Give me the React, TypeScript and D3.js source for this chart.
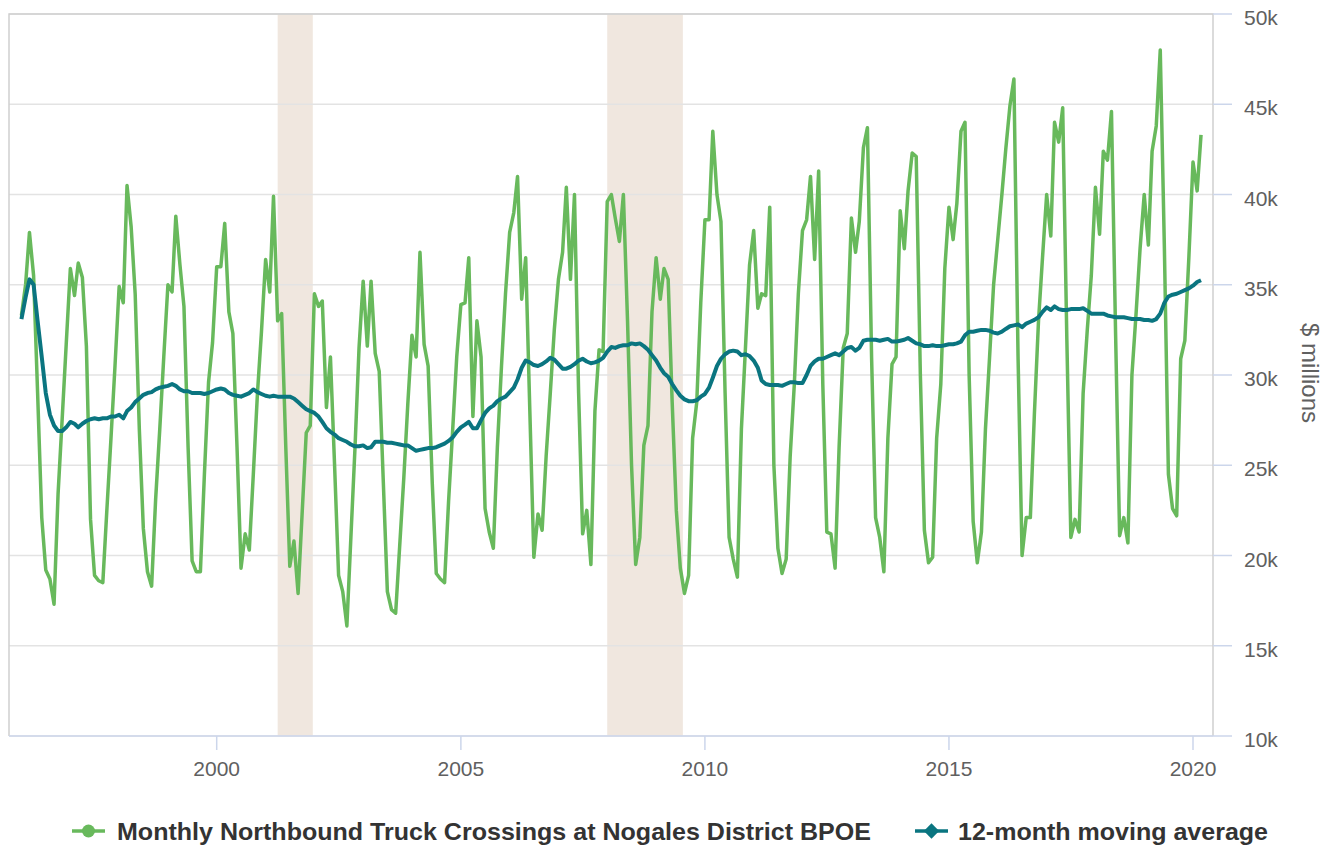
import * as d3 from "d3";

// monthly values, thousands of $ millions, starting Jan 1996
const START_YEAR = 1996;

const truckCrossings = [
  33.3, 35.0, 37.9, 35.5, 29.0, 22.1, 19.2, 18.7, 17.3, 23.4, 27.6, 31.7,
  35.9, 34.4, 36.2, 35.4, 31.6, 22.0, 18.9, 18.6, 18.5, 22.5, 26.5, 30.5,
  34.9, 34.0, 40.5, 38.2, 34.5, 27.0, 21.5, 19.1, 18.3, 23.1, 27.0, 31.0,
  35.0, 34.6, 38.8, 36.1, 33.8, 26.0, 19.7, 19.1, 19.1, 24.5, 29.6, 31.8,
  36.0, 36.0, 38.4, 33.5, 32.3, 26.0, 19.3, 21.2, 20.3, 24.5, 29.0, 32.4,
  36.4, 34.6, 39.9, 33.0, 33.4, 26.0, 19.4, 20.8, 17.9, 22.3, 26.8, 27.2,
  34.5, 33.8, 34.1, 28.2, 31.0, 25.0, 18.9, 18.0, 16.1, 21.0, 26.0, 31.5,
  35.2, 31.6, 35.2, 31.2, 30.2, 24.0, 18.0, 17.0, 16.8, 20.5, 24.3, 28.4,
  32.2, 31.0, 36.8, 31.7, 30.5, 24.0, 19.0, 18.7, 18.5, 23.0, 27.0, 31.0,
  33.9, 34.0, 36.5, 27.7, 33.0, 31.0, 22.6, 21.3, 20.4, 26.0, 30.5, 34.5,
  37.9, 39.0, 41.0, 34.2, 36.5, 28.0, 19.9, 22.3, 21.4, 25.5, 29.0, 32.5,
  35.3, 36.8, 40.4, 35.3, 40.0, 29.0, 21.2, 22.5, 19.5, 28.0, 31.4, 31.3,
  39.6, 40.0, 38.7, 37.4, 40.0, 33.0, 25.0, 19.5, 21.0, 26.1, 27.2, 33.5,
  36.5, 34.2, 35.9, 35.3, 28.5, 22.5, 19.3, 17.9, 18.9, 26.5, 28.5, 34.0,
  38.6, 38.6, 43.5, 40.0, 38.5, 29.0, 21.0, 19.8, 18.8, 27.0, 31.6, 36.1,
  38.0, 33.7, 34.5, 34.4, 39.3, 25.0, 20.4, 19.0, 19.8, 25.5, 29.5, 34.5,
  38.0, 38.6, 41.0, 36.4, 41.3, 29.5, 21.3, 21.2, 19.3, 26.0, 31.5, 32.3,
  38.7, 36.8, 38.5, 42.6, 43.7, 31.0, 22.1, 21.0, 19.1, 26.5, 30.6, 31.0,
  39.1, 37.0, 40.2, 42.3, 42.1, 30.0, 21.4, 19.6, 19.9, 26.5, 29.5, 35.9,
  39.3, 37.5, 39.5, 43.5, 44.0, 30.0, 21.9, 19.6, 21.3, 27.0, 31.0, 35.0,
  37.5, 40.0, 42.5, 44.9, 46.4, 31.0, 20.0, 22.1, 22.1, 27.8, 33.0, 36.5,
  40.0, 37.7, 44.0, 42.9, 44.8, 32.0, 21.0, 22.0, 21.3, 29.0, 32.5, 35.5,
  40.4, 37.8, 42.4, 41.9, 44.6, 32.2, 21.1, 22.1, 20.7, 30.0, 33.4, 37.0,
  40.0, 37.2, 42.4, 43.8, 48.0, 37.0, 24.5, 22.6, 22.2, 30.9, 31.9, 36.5,
  41.8, 40.2, 43.3,
];

const movingAverage = [
  33.1, 34.3, 35.3, 35.0, 33.0, 31.0, 29.0, 27.8, 27.2, 26.9, 26.9, 27.1,
  27.4, 27.3, 27.1, 27.3, 27.45, 27.55, 27.6, 27.55, 27.6, 27.6, 27.7, 27.7,
  27.8, 27.6, 28.0, 28.2, 28.5, 28.7, 28.9, 29.0, 29.05, 29.2, 29.3, 29.35,
  29.4, 29.5, 29.4, 29.2, 29.1, 29.1, 29.0, 29.0, 29.0, 28.95, 29.0, 29.1,
  29.2, 29.25, 29.2, 29.0, 28.9, 28.85, 28.8, 28.9, 29.0, 29.2, 29.05, 28.95,
  28.85, 28.8, 28.85, 28.8, 28.8, 28.8, 28.8, 28.7, 28.5, 28.3, 28.1, 28.0,
  27.9, 27.7, 27.4, 27.05, 26.85, 26.7, 26.5, 26.4, 26.3, 26.15, 26.05, 26.05,
  26.1, 25.95, 26.0, 26.3, 26.3, 26.3, 26.25, 26.25, 26.2, 26.15, 26.1, 26.1,
  25.95, 25.8, 25.85, 25.9, 25.95, 25.95, 26.0, 26.1, 26.2, 26.35, 26.55, 26.85,
  27.1, 27.25, 27.4, 27.05, 27.05, 27.5, 27.9, 28.15, 28.3, 28.55, 28.7, 28.8,
  29.05, 29.3, 29.75, 30.4, 30.8, 30.7, 30.55, 30.5, 30.6, 30.75, 30.95, 30.85,
  30.6, 30.35, 30.35, 30.45, 30.6, 30.8, 30.9, 30.75, 30.65, 30.7, 30.8, 30.95,
  31.3, 31.55, 31.5, 31.6, 31.65, 31.65, 31.75, 31.7, 31.75, 31.6, 31.4, 31.1,
  30.8, 30.4, 30.1, 29.9, 29.5, 29.15, 28.85, 28.65, 28.55, 28.55, 28.6, 28.8,
  28.95, 29.3, 29.85, 30.5, 30.9, 31.15, 31.3, 31.35, 31.3, 31.1, 31.15, 31.05,
  30.8, 30.4, 29.7, 29.5, 29.45, 29.45, 29.45, 29.4, 29.5, 29.6, 29.6, 29.55,
  29.55, 30.0, 30.5, 30.75, 30.9, 30.9, 31.0, 31.1, 31.2, 31.1, 31.3, 31.5,
  31.55, 31.35, 31.5, 31.9, 31.95, 31.95, 31.95, 31.9, 31.95, 32.0, 31.85, 31.85,
  31.9, 31.95, 32.05, 31.9, 31.75, 31.7, 31.6, 31.6, 31.65, 31.6, 31.6, 31.65,
  31.7, 31.7, 31.75, 31.85, 32.2, 32.4, 32.4, 32.45, 32.5, 32.5, 32.45, 32.35,
  32.3, 32.4, 32.55, 32.7, 32.75, 32.8, 32.65, 32.85, 32.95, 33.05, 33.2, 33.5,
  33.75, 33.6, 33.8, 33.65, 33.6, 33.6, 33.65, 33.65, 33.65, 33.7, 33.55, 33.4,
  33.4, 33.4, 33.4, 33.3, 33.25, 33.2, 33.2, 33.2, 33.15, 33.1, 33.1, 33.1,
  33.05, 33.05, 33.0, 33.1, 33.4, 34.0, 34.35, 34.45, 34.5, 34.6, 34.7, 34.8,
  34.95, 35.15, 35.25,
];

const yTickValues = [10, 15, 20, 25, 30, 35, 40, 45, 50];
const xTickYears = [2000, 2005, 2010, 2015, 2020];
const recessions = [
  ["2001-04-01", "2001-12-20"],
  ["2008-01-01", "2009-07-20"],
];
const seriesNames = [
  "Monthly Northbound Truck Crossings at Nogales District BPOE",
  "12-month moving average",
];

const W = 1332;
const H = 846;
const plot = { left: 9, right: 1213, top: 14, bottom: 736 };
const GREEN = "#68b95c";
const TEAL = "#0a7580";
const FONT = "'Liberation Sans', Arial, Helvetica, sans-serif";

export default function App() {
  const parse = d3.timeParse("%Y-%m-%d");

  const x = d3
    .scaleTime()
    .domain([new Date(2000, 0, 1), new Date(2020, 0, 1)])
    .range([216.7, 1193]);

  const y = d3.scaleLinear().domain([10, 50]).range([plot.bottom, plot.top]);

  const dateAt = (i: number) => new Date(START_YEAR, i, 1);

  const line = d3
    .line<number>()
    .x((_, i) => x(dateAt(i)))
    .y((d) => y(d));

  const legendY = 831;

  return (
    <div style={{ position: "absolute", left: 0, top: 0 }}>
      <svg width={W} height={H} style={{ display: "block", background: "#fff" }}>
        {/* recession bands */}
        {recessions.map(([a, b]) => {
          const x0 = x(parse(a)!);
          const x1 = x(parse(b)!);
          return (
            <rect
              key={a}
              x={x0}
              y={plot.top}
              width={x1 - x0}
              height={plot.bottom - plot.top}
              fill="#f0e7df"
            />
          );
        })}

        {/* grid */}
        {yTickValues.map((v) => (
          <line
            key={v}
            x1={plot.left}
            x2={plot.right}
            y1={y(v)}
            y2={y(v)}
            stroke="#e3e3e3"
            strokeWidth={1.5}
          />
        ))}

        {/* plot border */}
        <path
          d={`M${plot.left},${plot.bottom}V${plot.top}H${plot.right}V${plot.bottom}`}
          fill="none"
          stroke="#cfcfcf"
          strokeWidth={1.5}
        />

        {/* x axis */}
        <line
          x1={plot.left}
          x2={plot.right}
          y1={plot.bottom}
          y2={plot.bottom}
          stroke="#ccd6eb"
          strokeWidth={1.5}
        />
        {xTickYears.map((yr) => {
          const tx = x(new Date(yr, 0, 1));
          return (
            <g key={yr}>
              <line
                x1={tx}
                x2={tx}
                y1={plot.bottom}
                y2={plot.bottom + 14}
                stroke="#ccd6eb"
                strokeWidth={1.5}
              />
              <text
                x={tx}
                y={776}
                textAnchor="middle"
                fontFamily={FONT}
                fontSize={21}
                fill="#606060"
              >
                {yr}
              </text>
            </g>
          );
        })}

        {/* y axis on right */}
        {yTickValues.map((v) => (
          <g key={v}>
            <line
              x1={plot.right}
              x2={plot.right + 19}
              y1={y(v)}
              y2={y(v)}
              stroke="#ccd6eb"
              strokeWidth={1.5}
            />
            <text
              x={1244}
              y={y(v) + 11}
              fontFamily={FONT}
              fontSize={21}
              fill="#606060"
            >
              {`${v}k`}
            </text>
          </g>
        ))}
        <text
          transform={`translate(1302,373) rotate(90)`}
          textAnchor="middle"
          fontFamily={FONT}
          fontSize={24}
          fill="#606060"
        >
          $ millions
        </text>

        {/* series */}
        <path
          d={line(truckCrossings) ?? ""}
          fill="none"
          stroke={GREEN}
          strokeWidth={3.5}
          strokeLinejoin="round"
        />
        <path
          d={line(movingAverage) ?? ""}
          fill="none"
          stroke={TEAL}
          strokeWidth={4}
          strokeLinejoin="round"
        />

        {/* legend */}
        <g fontFamily={FONT} fontSize={24.5} fontWeight="bold" fill="#333">
          <line x1={72} x2={105} y1={legendY} y2={legendY} stroke={GREEN} strokeWidth={3.5} />
          <circle cx={88.5} cy={legendY} r={6.5} fill={GREEN} />
          <text x={117} y={legendY + 9} textLength={754} lengthAdjust="spacingAndGlyphs">
            {seriesNames[0]}
          </text>
          <line x1={915} x2={948} y1={legendY} y2={legendY} stroke={TEAL} strokeWidth={3.5} />
          <path
            d={d3.symbol(d3.symbolDiamond2, 150)() ?? ""}
            transform={`translate(931.5,${legendY})`}
            fill={TEAL}
          />
          <text x={958} y={legendY + 9} textLength={310} lengthAdjust="spacingAndGlyphs">
            {seriesNames[1]}
          </text>
        </g>
      </svg>
    </div>
  );
}
